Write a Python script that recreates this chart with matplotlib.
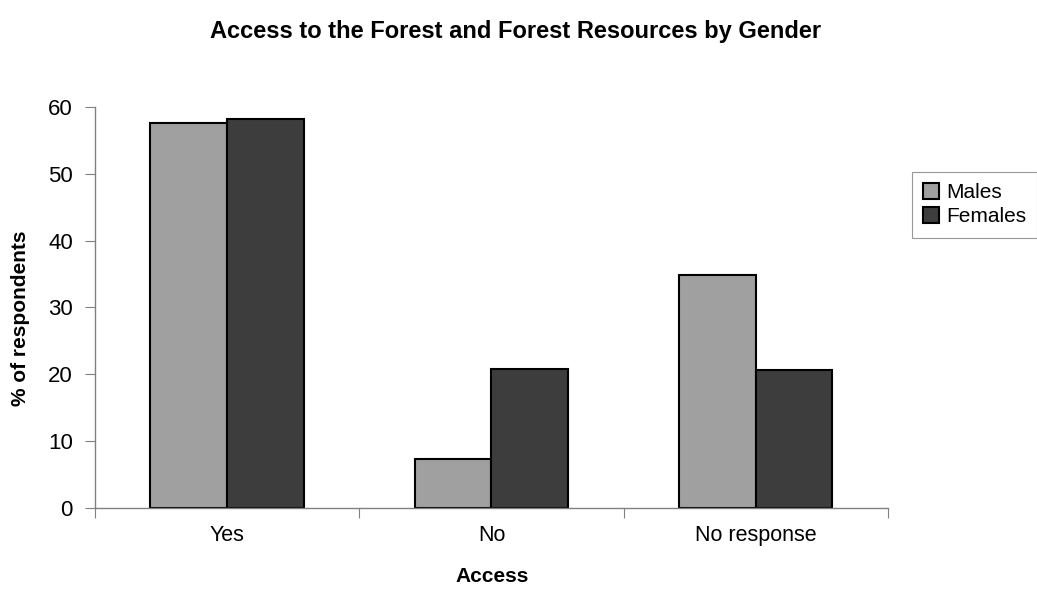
import matplotlib
matplotlib.use("Agg")
import matplotlib.pyplot as plt
import numpy as np

plt.rcParams['font.family'] = ['Liberation Sans', 'DejaVu Sans']

categories = ["Yes", "No", "No response"]
males = [57.6, 7.4, 34.9]
females = [58.2, 20.8, 20.7]
yticks = [0, 10, 20, 30, 40, 50, 60]

fig = plt.figure(figsize=(10.37, 5.92), dpi=100)
ax = fig.add_axes([0.0916, 0.1419, 0.7647, 0.6774])

x = np.arange(len(categories))
w = 0.29
ax.bar(x - w / 2, males, w, color="#a0a0a0", edgecolor="black", linewidth=1.5, label="Males")
ax.bar(x + w / 2, females, w, color="#3d3d3d", edgecolor="black", linewidth=1.5, label="Females")

ax.set_xlim(-0.5, len(categories) - 0.5)
ax.set_ylim(0, 60)

for s in ("top", "right"):
    ax.spines[s].set_visible(False)
for s in ("left", "bottom"):
    ax.spines[s].set_color("#808080")
    ax.spines[s].set_linewidth(1.0)

ax.set_yticks(yticks)
ax.tick_params(axis="y", length=7, color="#808080", labelsize=16, pad=9)

# boundary ticks between categories, labels centred on each group
ax.set_xticks(np.arange(-0.5, len(categories), 1.0))
ax.set_xticklabels([])
ax.tick_params(axis="x", which="major", length=7, color="#808080")
ax.set_xticks(x, minor=True)
ax.tick_params(axis="x", which="minor", length=0, labelsize=15.5, pad=12)
ax.set_xticklabels(categories, minor=True)

# axis titles placed in figure coordinates
fig.text(0.0195, 0.463, "% of respondents", rotation=90,
         ha="center", va="center", fontsize=15, fontweight="bold")
fig.text(0.475, 0.026, "Access", ha="center", va="center", fontsize=15, fontweight="bold")

fig.suptitle("Access to the Forest and Forest Resources by Gender", x=0.497, y=0.967,
             fontsize=17, fontweight="bold")

leg = fig.legend(loc="upper left", bbox_to_anchor=(0.879, 0.71), frameon=True,
                 fancybox=False, edgecolor="#808080", fontsize=15,
                 handlelength=0.75, handleheight=0.75, handletextpad=0.35,
                 borderpad=0.55, labelspacing=0.25, borderaxespad=0)
leg.get_frame().set_linewidth(0.8)

fig.savefig("out.png", dpi=100)
